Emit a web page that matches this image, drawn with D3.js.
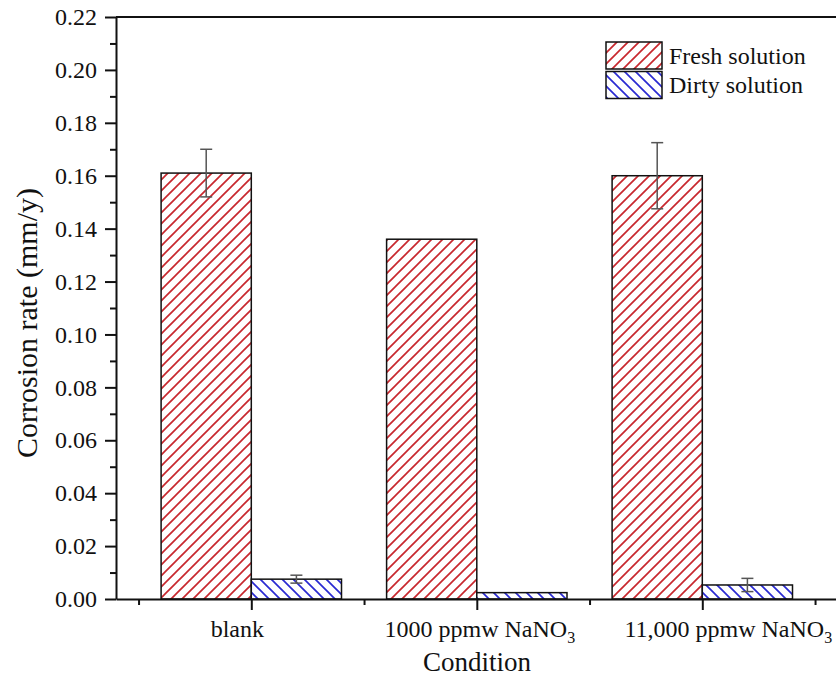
<!DOCTYPE html>
<html>
<head>
<meta charset="utf-8">
<script src="https://cdn.jsdelivr.net/npm/d3@7"></script>
<style>
  html, body { margin: 0; padding: 0; background: #fff; }
  svg { display: block; }
</style>
</head>
<body>
<svg id="chart" width="836" height="681"></svg>
<script>
// ---- data ----
const categories = ["blank", "1000 ppmw NaNO", "11,000 ppmw NaNO"];
const categorySubscripts = ["", "3", "3"];
const seriesNames = ["Fresh solution", "Dirty solution"];
const freshValues = [0.161, 0.136, 0.160];
const freshErrors = [0.009, 0, 0.0125];
const dirtyValues = [0.0075, 0.0024, 0.0053];
const dirtyErrors = [0.0015, 0, 0.0025];
const yTicks = [0, 0.02, 0.04, 0.06, 0.08, 0.10, 0.12, 0.14, 0.16, 0.18, 0.20, 0.22];

// ---- layout ----
const plotLeft = 116, plotTop = 17, plotBottom = 599, plotRight = 837.6;
const labelShift = [-14, 3, 26];   // horizontal nudge of category labels
const barWidth = 0.4;              // in category units
const serif = '"Liberation Serif", "Times New Roman", serif';

const svg = d3.select("#chart");
const styleText = sel => sel.style("font-family", serif).style("fill", "#111");

const x = d3.scaleLinear().domain([0.4, 3.6]).range([plotLeft, plotRight]);
const y = d3.scaleLinear().domain([0, 0.22]).range([plotBottom, plotTop]);

// hatch patterns
const defs = svg.append("defs");
function hatch(id, color, dir) {
  const s = 11;
  const p = defs.append("pattern")
    .attr("id", id).attr("patternUnits", "userSpaceOnUse")
    .attr("width", s).attr("height", s);
  p.append("rect").attr("width", s).attr("height", s).attr("fill", "#fff");
  const d = dir > 0
    ? `M0,${s} L${s},0 M${-s / 2},${s / 2} L${s / 2},${-s / 2} M${s / 2},${s * 1.5} L${s * 1.5},${s / 2}`
    : `M0,0 L${s},${s} M${-s / 2},${s / 2} L${s / 2},${s * 1.5} M${s / 2},${-s / 2} L${s * 1.5},${s / 2}`;
  p.append("path").attr("d", d).attr("stroke", color).attr("stroke-width", 1.7).attr("fill", "none");
}
hatch("hatchFresh", "#c8282e", 1);
hatch("hatchDirty", "#2a2ad2", -1);

const series = [
  { name: seriesNames[0], values: freshValues, errors: freshErrors, fill: "url(#hatchFresh)", offset: -barWidth },
  { name: seriesNames[1], values: dirtyValues, errors: dirtyErrors, fill: "url(#hatchDirty)", offset: 0 }
];

// bars
series.forEach(s => {
  svg.append("g").selectAll("rect")
    .data(s.values)
    .join("rect")
    .attr("x", (d, i) => x(i + 1 + s.offset))
    .attr("y", d => y(d))
    .attr("width", (d, i) => x(i + 1 + s.offset + barWidth) - x(i + 1 + s.offset))
    .attr("height", d => y(0) - y(d))
    .attr("fill", s.fill)
    .attr("stroke", "#111")
    .attr("stroke-width", 1.5);
});

// error bars
series.forEach(s => {
  const g = svg.append("g").attr("stroke", "#555").attr("stroke-width", 1.5);
  s.values.forEach((v, i) => {
    const e = s.errors[i];
    if (!e) return;
    const cx = x(i + 1 + s.offset + barWidth / 2);
    g.append("line").attr("x1", cx).attr("x2", cx).attr("y1", y(v + e)).attr("y2", y(v - e));
    [v + e, v - e].forEach(t => {
      g.append("line").attr("x1", cx - 6).attr("x2", cx + 6).attr("y1", y(t)).attr("y2", y(t));
    });
  });
});

// y axis: minor ticks, then major ticks with labels
const yMinor = d3.range(0.01, 0.22, 0.02);
svg.append("g").attr("transform", `translate(${plotLeft},0)`)
  .call(d3.axisLeft(y).tickValues(yMinor).tickSize(6).tickFormat(""))
  .call(g => g.select(".domain").remove())
  .call(g => g.selectAll("line").attr("stroke", "#111").attr("stroke-width", 2));

svg.append("g").attr("transform", `translate(${plotLeft},0)`)
  .call(d3.axisLeft(y).tickValues(yTicks).tickSize(11).tickSizeOuter(0).tickPadding(8).tickFormat(d3.format(".2f")))
  .call(g => g.select(".domain").attr("stroke", "#111").attr("stroke-width", 2))
  .call(g => g.selectAll("line").attr("stroke", "#111").attr("stroke-width", 2))
  .call(g => g.selectAll("text").call(styleText).style("font-size", "24px"));

// x axis: minor ticks between categories, major ticks at category centres
svg.append("g").attr("transform", `translate(0,${plotBottom})`)
  .call(d3.axisBottom(x).tickValues([0.5, 1.5, 2.5, 3.5]).tickSize(6).tickFormat(""))
  .call(g => g.select(".domain").remove())
  .call(g => g.selectAll("line").attr("stroke", "#111").attr("stroke-width", 2));

svg.append("g").attr("transform", `translate(0,${plotBottom})`)
  .call(d3.axisBottom(x).tickValues([1, 2, 3]).tickSize(11).tickSizeOuter(0).tickFormat(""))
  .call(g => g.select(".domain").attr("stroke", "#111").attr("stroke-width", 2))
  .call(g => g.selectAll("line").attr("stroke", "#111").attr("stroke-width", 2));

// top frame line
svg.append("line")
  .attr("x1", plotLeft).attr("x2", plotRight).attr("y1", plotTop).attr("y2", plotTop)
  .attr("stroke", "#111").attr("stroke-width", 2);

// category labels with chemical subscripts
categories.forEach((c, i) => {
  const t = svg.append("text")
    .attr("x", x(i + 1) + labelShift[i]).attr("y", 637)
    .attr("text-anchor", "middle")
    .call(styleText).style("font-size", "24px");
  t.append("tspan").text(c);
  if (categorySubscripts[i]) {
    t.append("tspan").attr("dy", 6).style("font-size", "16px").text(categorySubscripts[i]);
  }
});

// axis titles
svg.append("text")
  .attr("x", 477).attr("y", 671)
  .attr("text-anchor", "middle")
  .call(styleText).style("font-size", "27px")
  .text("Condition");

svg.append("text")
  .attr("transform", "translate(37,323) rotate(-90)")
  .attr("text-anchor", "middle")
  .call(styleText).style("font-size", "30px")
  .text("Corrosion rate (mm/y)");

// legend
const legend = svg.append("g").attr("transform", "translate(606,42)");
series.forEach((s, i) => {
  legend.append("rect")
    .attr("x", 0).attr("y", i * 29.5)
    .attr("width", 56).attr("height", 27)
    .attr("fill", s.fill).attr("stroke", "#111").attr("stroke-width", 1.5);
  legend.append("text")
    .attr("x", 63).attr("y", i * 29.5 + 21.5)
    .call(styleText).style("font-size", "24px")
    .text(s.name);
});
</script>
</body>
</html>
